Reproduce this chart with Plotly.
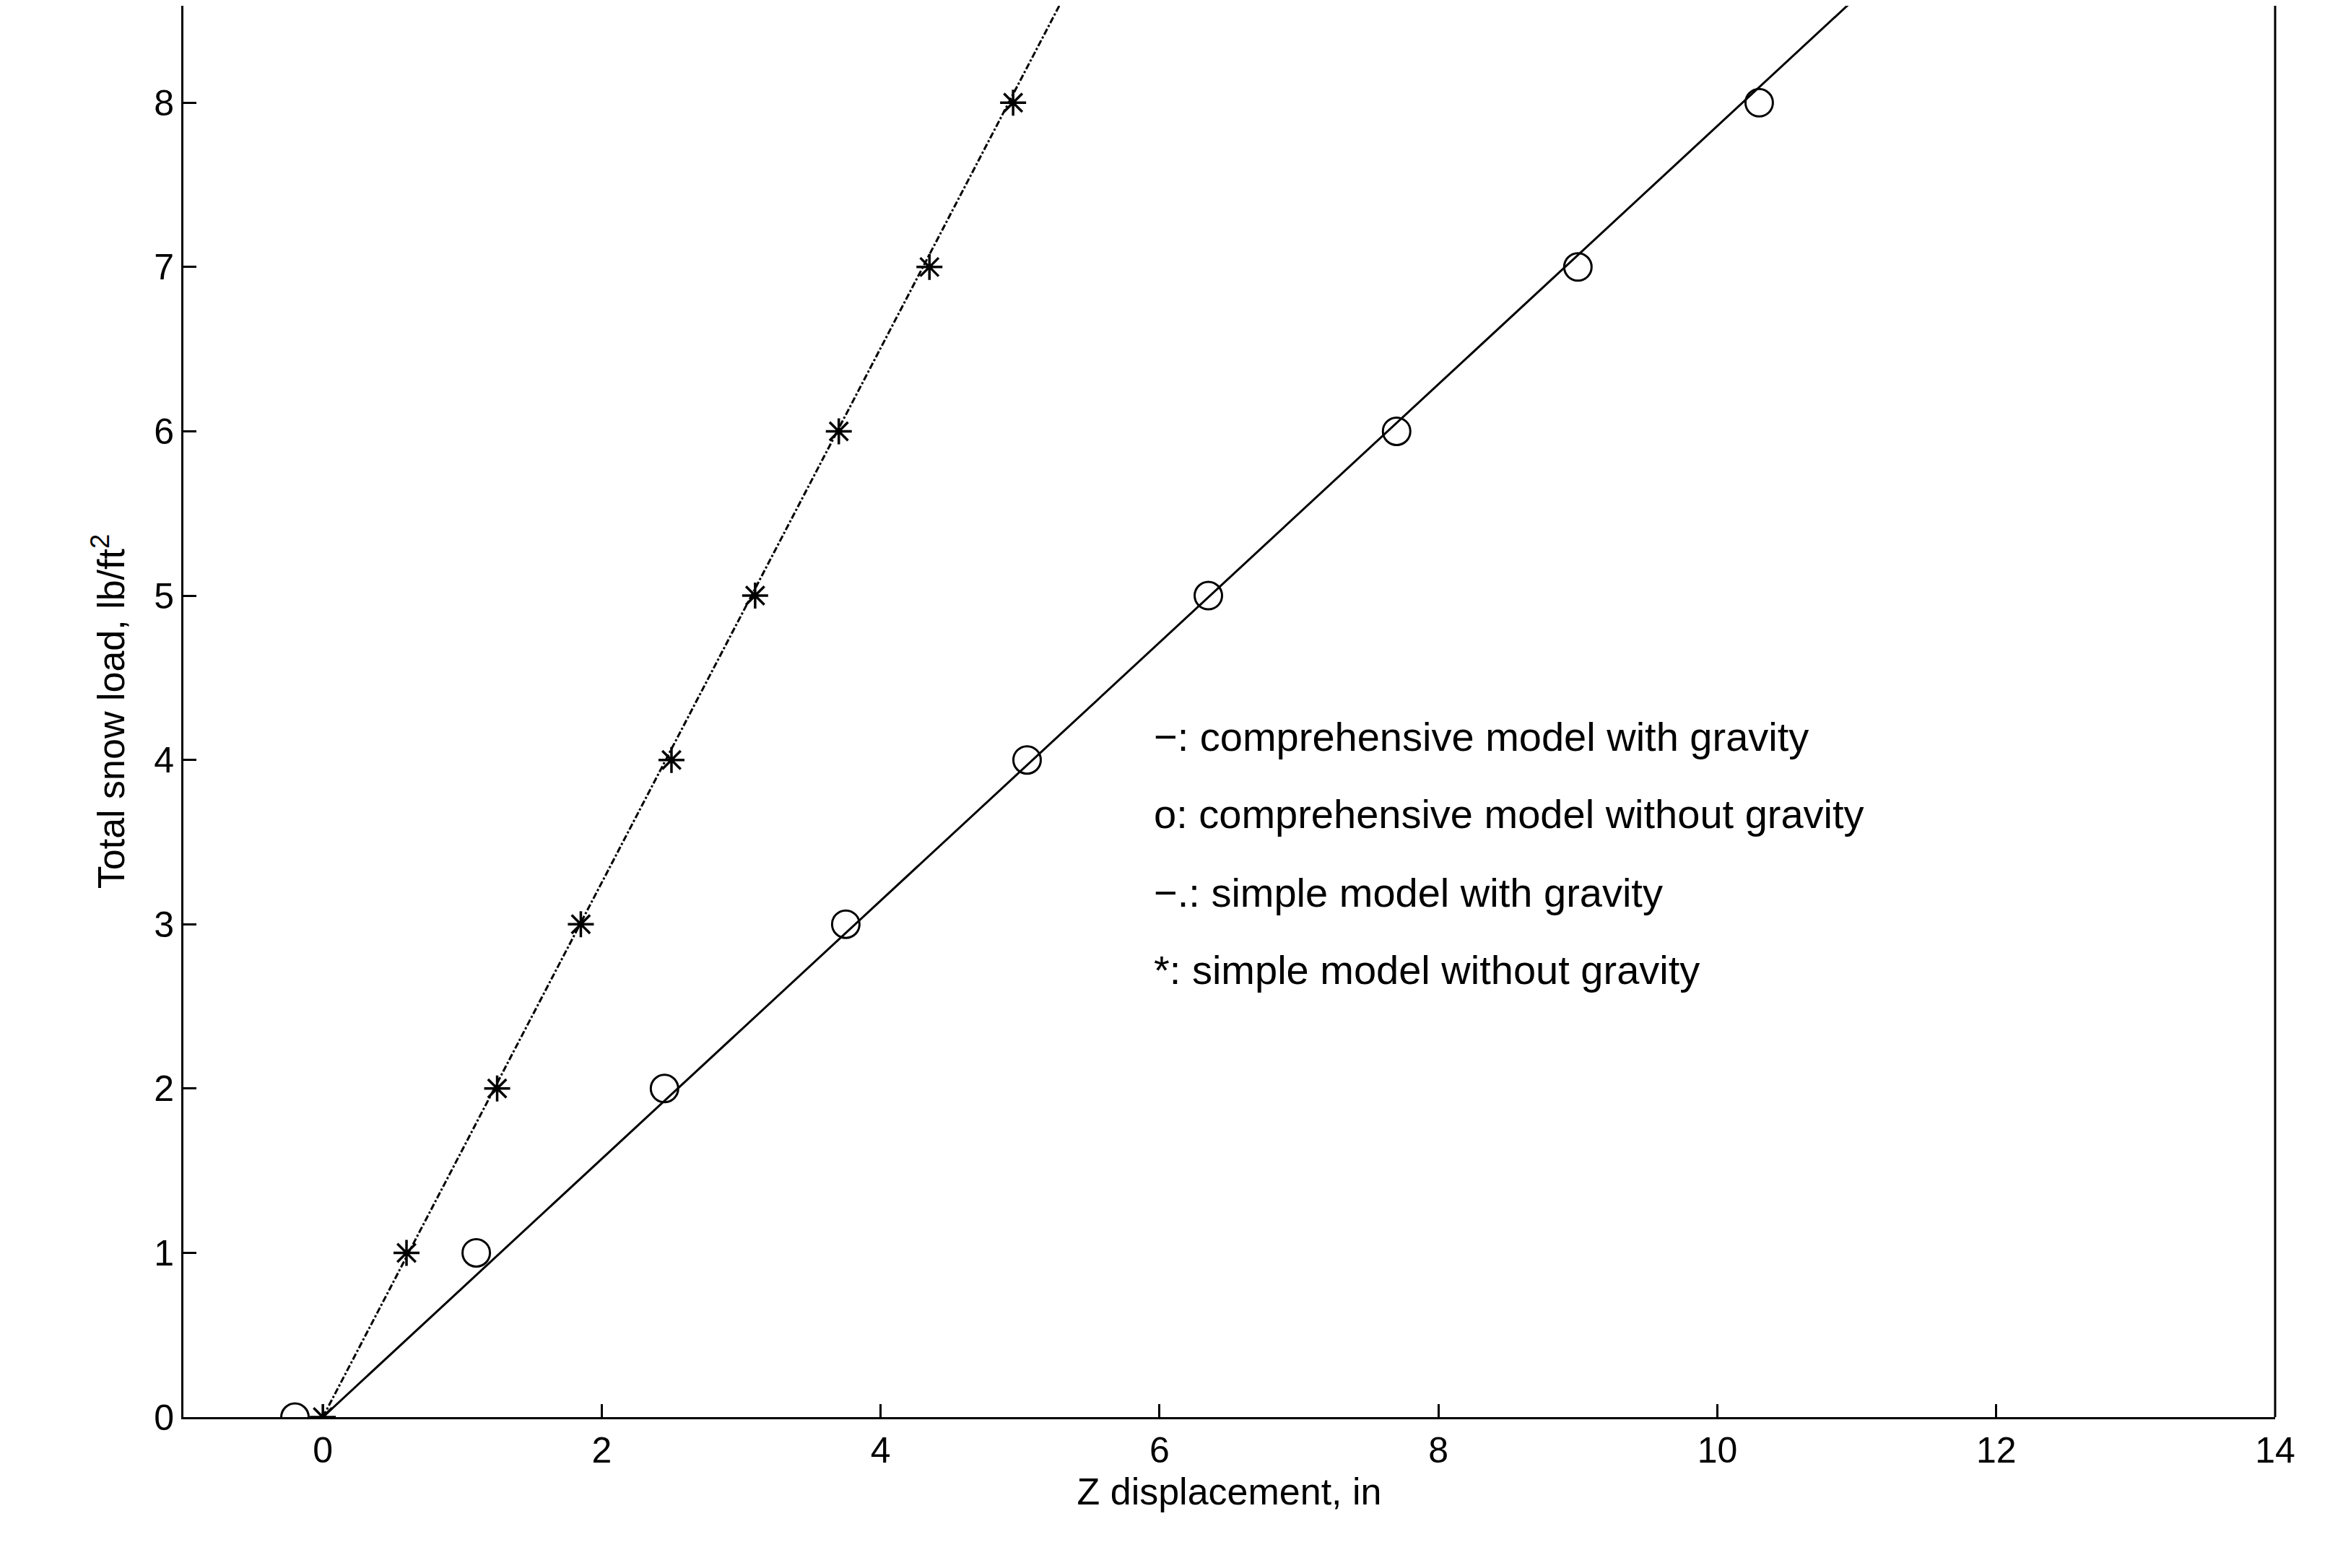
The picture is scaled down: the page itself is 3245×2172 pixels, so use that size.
import plotly.graph_objects as go

load = [0, 1, 2, 3, 4, 5, 6, 7, 8]
disp_comp_nograv = [-0.2, 1.1, 2.45, 3.75, 5.05, 6.35, 7.7, 9.0, 10.3]
disp_simple_nograv = [0.0, 0.6, 1.25, 1.85, 2.5, 3.1, 3.7, 4.35, 4.95]
line_comp_x = [0, 12]
line_comp_y = [0, 9.43]
line_simple_x = [0, 6]
line_simple_y = [0, 9.76]
legend_lines = ["\u2212: comprehensive model with gravity",
                "o: comprehensive model without gravity",
                "\u2212.: simple model with gravity",
                "*: simple model without gravity"]
legend_y = [4.14, 3.67, 3.19, 2.72]

fig = go.Figure()
fig.add_trace(go.Scatter(x=line_comp_x, y=line_comp_y, mode="lines",
                         line=dict(color="black", width=3)))
fig.add_trace(go.Scatter(x=line_simple_x, y=line_simple_y, mode="lines",
                         line=dict(color="black", width=3, dash="dashdot")))
fig.add_trace(go.Scatter(x=disp_comp_nograv, y=load, mode="markers",
                         marker=dict(symbol="circle-open", size=38, color="black", line=dict(width=3))))
fig.add_trace(go.Scatter(x=disp_simple_nograv, y=load, mode="markers",
                         marker=dict(symbol="asterisk-open", size=30, color="black", line=dict(width=3.5))))
for t, yy in zip(legend_lines, legend_y):
    fig.add_annotation(x=5.95, y=yy, text=t, showarrow=False, xanchor="left",
                       font=dict(size=56, color="black", family="Liberation Sans"))

ax = dict(showgrid=False, zeroline=False, showline=True, linecolor="black", linewidth=3,
          ticks="inside", ticklen=18, tickwidth=3, tickcolor="black", mirror=False,
          tickfont=dict(size=50, color="black"))
fig.update_xaxes(**ax, range=[-1, 14], tickvals=list(range(0, 15, 2)),
                 title=dict(text="Z displacement, in", font=dict(size=52), standoff=10))
fig.update_yaxes(**ax, range=[0, 8.59], tickvals=list(range(0, 9)),
                 title=dict(text="Total snow load, lb/ft<sup>2</sup>", font=dict(size=52), standoff=24))
fig.add_shape(type="line", xref="paper", yref="paper", x0=1, x1=1, y0=0, y1=1,
              line=dict(color="black", width=3))
fig.update_layout(width=3245, height=2172, showlegend=False, plot_bgcolor="white",
                  paper_bgcolor="white", font=dict(family="Liberation Sans", color="black"),
                  margin=dict(l=246, r=102, t=0, b=217))
fig.write_html("out.html")
